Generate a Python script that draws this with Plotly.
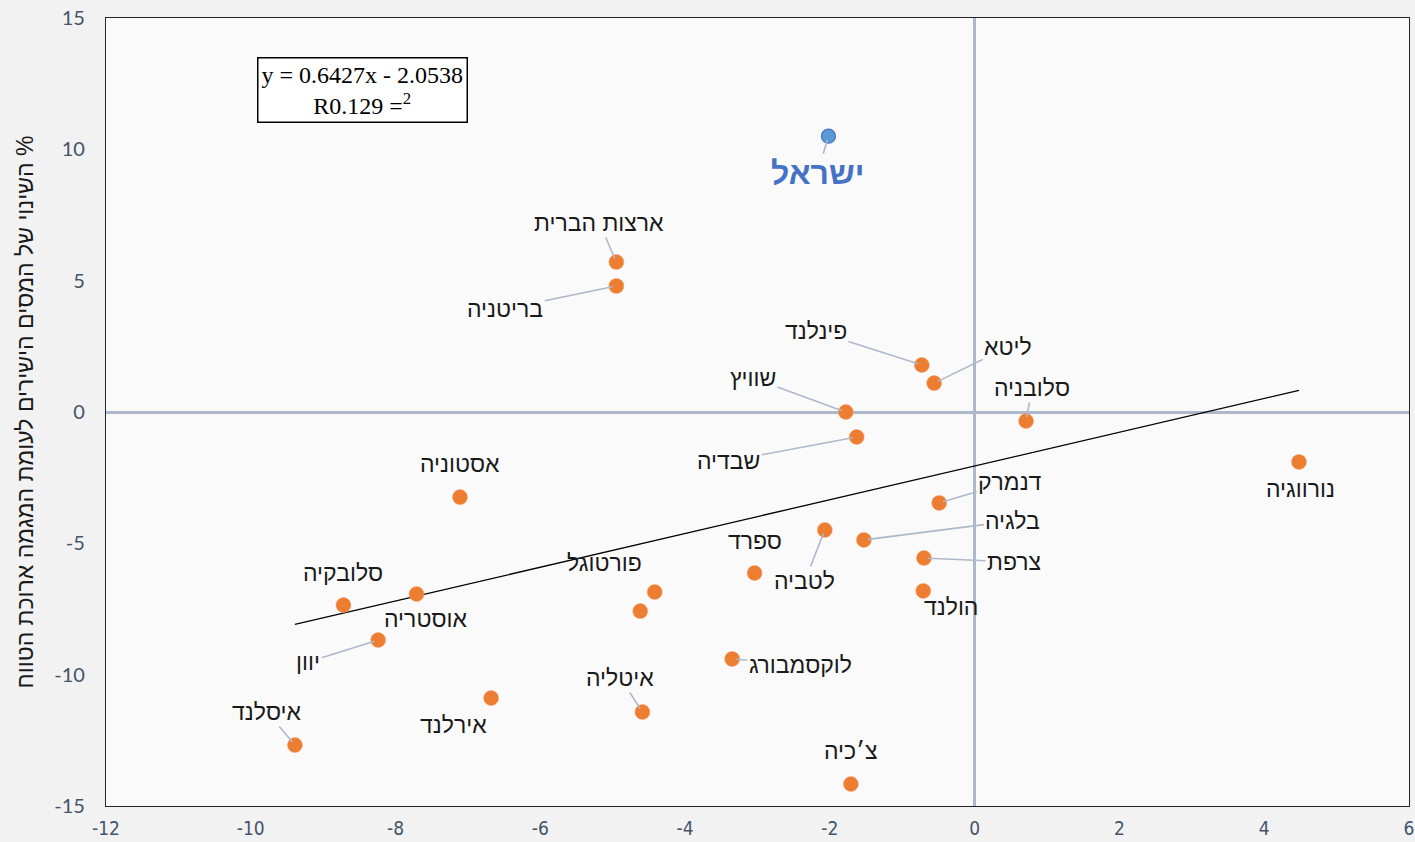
import plotly.graph_objects as go
import numpy as np

# ---- data ----
countries = ["ישראל", "ארצות הברית", "בריטניה", "פינלנד", "ליטא", "שוויץ", "סלובניה", "שבדיה",
             "נורווגיה", "אסטוניה", "דנמרק", "לטביה", "בלגיה", "צרפת", "ספרד", "הולנד",
             "פורטוגל", "", "סלובקיה", "אוסטריה", "יוון", "לוקסמבורג", "אירלנד", "איטליה",
             "איסלנד", "צ׳כיה"]
x_vals = [-2.02, -4.95, -4.95, -0.73, -0.56, -1.78, 0.71, -1.63,
          4.48, -7.11, -0.49, -2.07, -1.53, -0.70, -3.04, -0.71,
          -4.42, -4.62, -8.72, -7.71, -8.24, -3.35, -6.68, -4.59,
          -9.39, -1.71]
y_vals = [10.5, 5.71, 4.80, 1.79, 1.10, 0.0, -0.34, -0.95,
          -1.90, -3.24, -3.46, -4.49, -4.87, -5.56, -6.13, -6.81,
          -6.85, -7.58, -7.35, -6.93, -8.68, -9.40, -10.89, -11.42,
          -12.68, -14.16]
# label offsets in pixels (dx, dy screen) and whether a leader line is drawn
label_dx = [-11, -17, -111, -106, 74, -93, 6, -128,
            2, 0, 71, -20, 149, 90, 0, 28,
            -50, 0, 0, 9, -70, 68, -38, -22,
            -28, 0]
label_dy = [37, -39, 23, -34, -36, -34, -33, 24,
            27, -33, -21, 51, -19, 4, -32, 16,
            -29, 0, -32, 25, 22, 6, 27, -34,
            -33, -33]
leader = [1, 1, 1, 1, 1, 1, 1, 1,
          0, 0, 1, 1, 1, 1, 0, 0,
          0, 0, 0, 0, 1, 1, 0, 1,
          1, 0]

slope, intercept = 0.6427, -2.0538
x_ticks = [-12, -10, -8, -6, -4, -2, 0, 2, 4, 6]
y_ticks = [-15, -10, -5, 0, 5, 10, 15]
y_title = "השינוי של המסים הישירים לעומת המגמה ארוכת הטווח %"
eq_text = "y = 0.6427x - 2.0538<br>R0.129 =<sup>2</sup>"

fig = go.Figure()

# trendline
tx = np.array([min(x_vals), max(x_vals)])
fig.add_trace(go.Scatter(x=tx, y=slope * tx + intercept, mode="lines",
                         line=dict(color="black", width=1.3), hoverinfo="skip",
                         showlegend=False))

# other countries
fig.add_trace(go.Scatter(x=x_vals[1:], y=y_vals[1:], mode="markers",
                         marker=dict(color="#ED7D31", size=15, line=dict(color="#F0A070", width=0.5)),
                         showlegend=False))
# Israel
fig.add_trace(go.Scatter(x=x_vals[:1], y=y_vals[:1], mode="markers",
                         marker=dict(color="#5B9BD5", size=14, line=dict(color="#4472C4", width=1.2)),
                         showlegend=False))

annotations = []
for i, name in enumerate(countries):
    if not name:
        continue
    if i == 0:
        font = dict(family="Liberation Sans, DejaVu Sans", size=32, color="#4472C4")
        text = "<b>" + name + "</b>"
    else:
        font = dict(family="Liberation Sans, DejaVu Sans", size=23, color="#1a1a1a")
        text = name
    if leader[i]:
        annotations.append(dict(x=x_vals[i], y=y_vals[i], xref="x", yref="y", text=text,
                                showarrow=True, ax=label_dx[i], ay=label_dy[i],
                                arrowhead=0, arrowwidth=1.6, arrowcolor="#ADB9CA",
                                standoff=4, font=font))
    else:
        annotations.append(dict(x=x_vals[i], y=y_vals[i], xref="x", yref="y", text=text,
                                showarrow=False, xshift=label_dx[i], yshift=-label_dy[i],
                                font=font))

annotations.append(dict(x=0.197, y=0.909, xref="paper", yref="paper", text=eq_text,
                        xanchor="center", yanchor="middle",
                        showarrow=False, align="center",
                        font=dict(family="Liberation Serif, DejaVu Serif", size=24, color="black"),
                        bgcolor="white", bordercolor="black", borderwidth=1.5, borderpad=3))

fig.update_layout(
    width=1415, height=842,
    margin=dict(l=106, r=6, t=18, b=36),
    paper_bgcolor="#F2F2F2",
    plot_bgcolor="#FAFAFA",
    annotations=annotations,
    showlegend=False,
)
fig.update_xaxes(range=[-12, 6], tickvals=x_ticks, ticktext=[str(v) for v in x_ticks],
                 automargin=False,
                 showgrid=False, zeroline=True, zerolinecolor="#ADB9CA", zerolinewidth=2.5,
                 showline=True, mirror=True, linecolor="#262626", linewidth=1.2,
                 ticks="", ticklabelstandoff=5,
                 tickfont=dict(family="Liberation Sans Narrow, DejaVu Sans Condensed, Liberation Sans",
                               size=19, color="#44546A"))
fig.update_yaxes(range=[-15, 15], tickvals=y_ticks, ticktext=[str(v) for v in y_ticks],
                 automargin=False,
                 showgrid=False, zeroline=True, zerolinecolor="#ADB9CA", zerolinewidth=2.5,
                 showline=True, mirror=True, linecolor="#262626", linewidth=1.2,
                 ticks="", ticklabelstandoff=16,
                 tickfont=dict(family="Lato, DejaVu Sans", size=20, color="#44546A"),
                 title=dict(text=y_title, standoff=14,
                            font=dict(family="Liberation Sans, DejaVu Sans", size=23, color="#1a1a1a")))

fig.write_html("out.html", config={"displayModeBar": False},
               post_script="document.body.style.margin='0';document.body.style.overflow='hidden';")
